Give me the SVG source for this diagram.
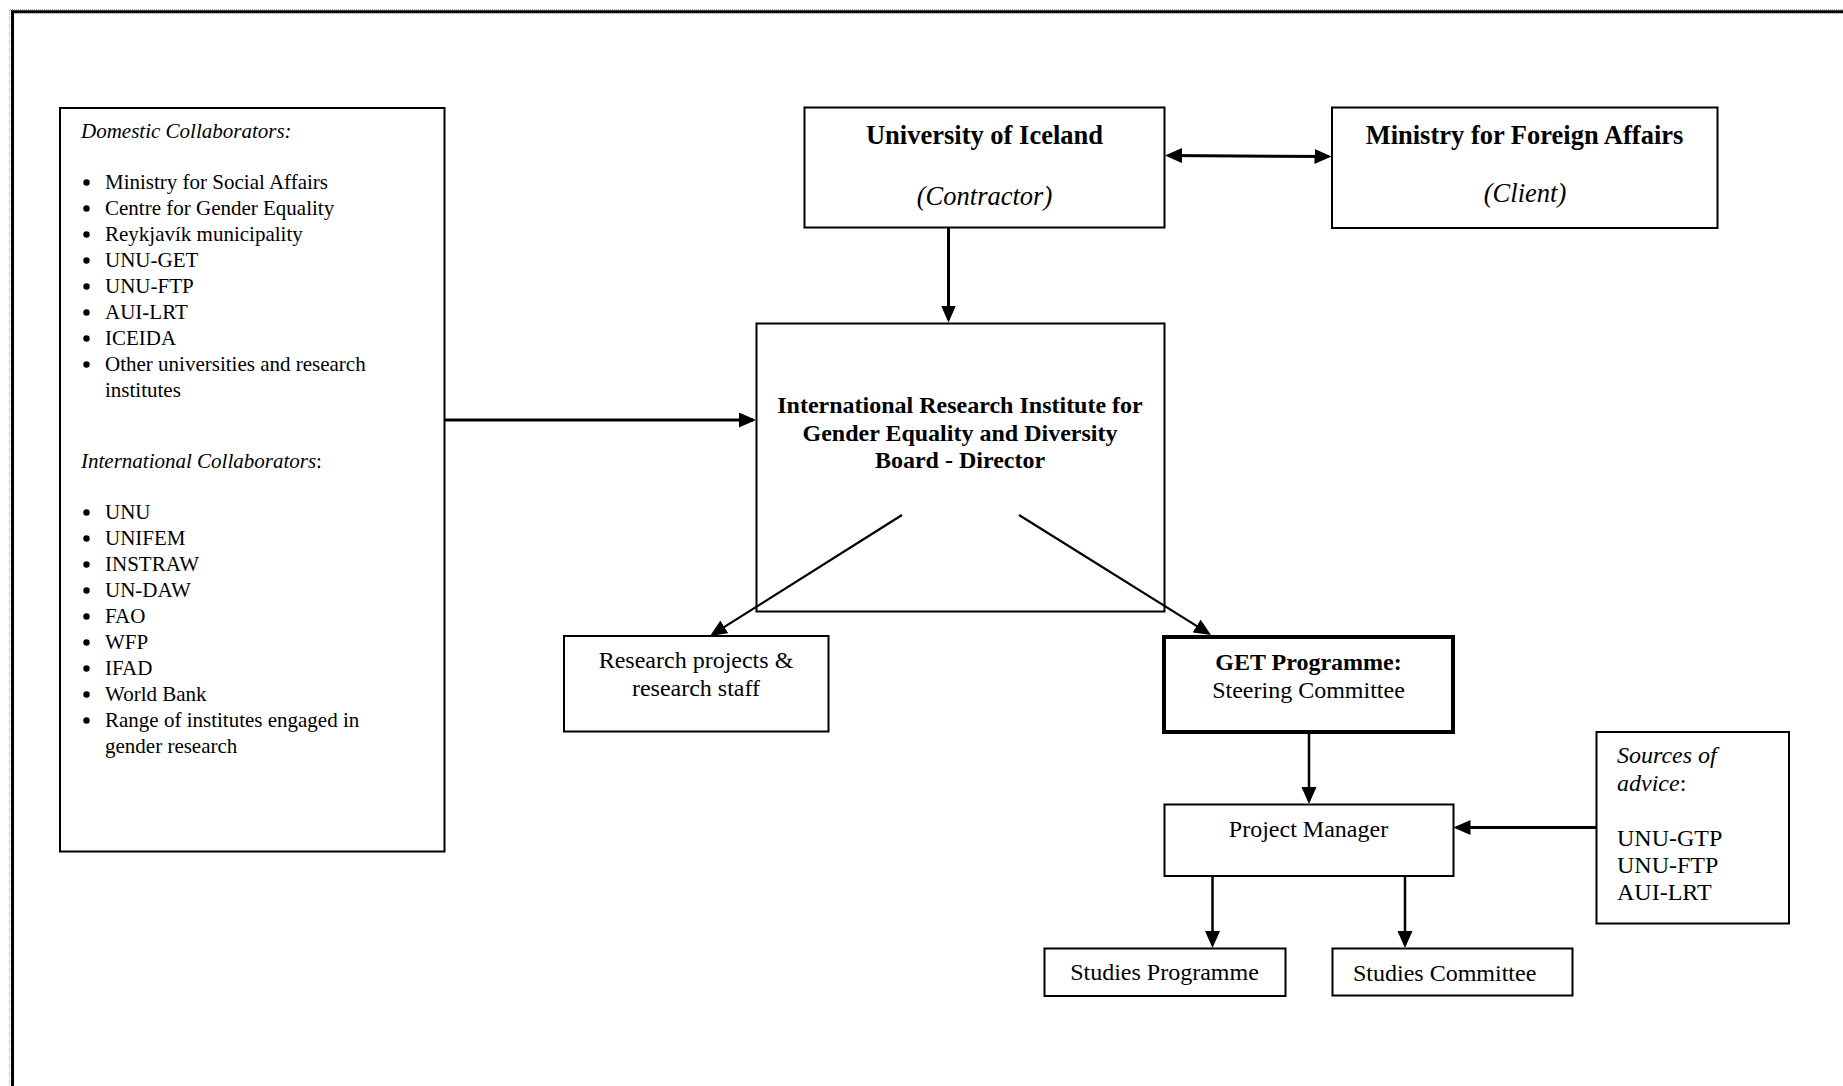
<svg xmlns="http://www.w3.org/2000/svg" width="1843" height="1086" viewBox="0 0 1843 1086">
<style>
  .box { fill: #fff; stroke: #000; stroke-width: 2; }
  .thick { stroke-width: 4; }
  .t { font-family: "Liberation Serif", "Times New Roman", serif; fill: #000; font-size: 24px; }
  .c { text-anchor: middle; }
  .b { font-weight: bold; }
  .i { font-style: italic; }
  .big { font-size: 26.5px; }
  .sm { font-size: 21px; }
  .conn line { stroke: #000; stroke-width: 2.5; fill: none; }
</style>
<defs>
  <marker id="arr" markerUnits="userSpaceOnUse" markerWidth="17" markerHeight="15" refX="14" refY="7.5" orient="auto">
    <path d="M0,0 L17,7.5 L0,15 z" fill="#000"/>
  </marker>
  <marker id="arrs" markerUnits="userSpaceOnUse" markerWidth="17" markerHeight="15" refX="14" refY="7.5" orient="auto-start-reverse">
    <path d="M0,0 L17,7.5 L0,15 z" fill="#000"/>
  </marker>
</defs>
<rect width="1843" height="1086" fill="#fff"/>
<g id="frame">
  <line x1="10" y1="9.5" x2="1843" y2="9.5" stroke="#aaa" stroke-width="1" stroke-dasharray="1,1"/>
  <line x1="9.5" y1="10" x2="9.5" y2="1086" stroke="#aaa" stroke-width="1" stroke-dasharray="1,1"/>
  <line x1="11" y1="11.75" x2="1843" y2="11.75" stroke="#000" stroke-width="3"/>
  <line x1="12.5" y1="10.5" x2="12.5" y2="1086" stroke="#000" stroke-width="3"/>
</g>

<g id="collaborators">
  <rect class="box" x="60" y="108" width="384.5" height="743.5"/>
  <text class="t sm i" x="81" y="138">Domestic Collaborators:</text>
  <g fill="#000">
    <circle cx="86.5" cy="182.5" r="3.2"/>
    <circle cx="86.5" cy="208.5" r="3.2"/>
    <circle cx="86.5" cy="234.5" r="3.2"/>
    <circle cx="86.5" cy="260.5" r="3.2"/>
    <circle cx="86.5" cy="286.5" r="3.2"/>
    <circle cx="86.5" cy="312.5" r="3.2"/>
    <circle cx="86.5" cy="338.5" r="3.2"/>
    <circle cx="86.5" cy="364.5" r="3.2"/>
  </g>
  <text class="t sm" x="105" y="189">Ministry for Social Affairs</text>
  <text class="t sm" x="105" y="215">Centre for Gender Equality</text>
  <text class="t sm" x="105" y="241">Reykjavík municipality</text>
  <text class="t sm" x="105" y="267">UNU-GET</text>
  <text class="t sm" x="105" y="293">UNU-FTP</text>
  <text class="t sm" x="105" y="319">AUI-LRT</text>
  <text class="t sm" x="105" y="345">ICEIDA</text>
  <text class="t sm" x="105" y="371">Other universities and research</text>
  <text class="t sm" x="105" y="397">institutes</text>

  <text class="t sm" x="81" y="468"><tspan class="i">International Collaborators</tspan>:</text>
  <g fill="#000">
    <circle cx="86.5" cy="512.5" r="3.2"/>
    <circle cx="86.5" cy="538.5" r="3.2"/>
    <circle cx="86.5" cy="564.5" r="3.2"/>
    <circle cx="86.5" cy="590.5" r="3.2"/>
    <circle cx="86.5" cy="616.5" r="3.2"/>
    <circle cx="86.5" cy="642.5" r="3.2"/>
    <circle cx="86.5" cy="668.5" r="3.2"/>
    <circle cx="86.5" cy="694.5" r="3.2"/>
    <circle cx="86.5" cy="720.5" r="3.2"/>
  </g>
  <text class="t sm" x="105" y="519">UNU</text>
  <text class="t sm" x="105" y="545">UNIFEM</text>
  <text class="t sm" x="105" y="571">INSTRAW</text>
  <text class="t sm" x="105" y="597">UN-DAW</text>
  <text class="t sm" x="105" y="623">FAO</text>
  <text class="t sm" x="105" y="649">WFP</text>
  <text class="t sm" x="105" y="675">IFAD</text>
  <text class="t sm" x="105" y="701">World Bank</text>
  <text class="t sm" x="105" y="727">Range of institutes engaged in</text>
  <text class="t sm" x="105" y="753">gender research</text>
</g>

<g id="university">
  <rect class="box" x="804.5" y="107.5" width="360" height="120"/>
  <text class="t big b c" x="984.5" y="144">University of Iceland</text>
  <text class="t big i c" x="984.5" y="205">(Contractor)</text>
</g>

<g id="ministry">
  <rect class="box" x="1332" y="107.5" width="385.5" height="120.5"/>
  <text class="t big b c" x="1524.5" y="143.5">Ministry for Foreign Affairs</text>
  <text class="t big i c" x="1525" y="202">(Client)</text>
</g>

<g id="institute">
  <rect class="box" x="756.5" y="323.5" width="408" height="288"/>
  <text class="t b c" x="960" y="413">International Research Institute for</text>
  <text class="t b c" x="960" y="440.5">Gender Equality and Diversity</text>
  <text class="t b c" x="960" y="468">Board - Director</text>
</g>

<g id="research">
  <rect class="box" x="564" y="636" width="264.5" height="95.5"/>
  <text class="t c" x="696" y="668">Research projects &amp;</text>
  <text class="t c" x="696" y="696">research staff</text>
</g>

<g id="get">
  <rect class="box thick" x="1164" y="637" width="289" height="95"/>
  <text class="t b c" x="1308.5" y="670">GET Programme:</text>
  <text class="t c" x="1308.5" y="697.5">Steering Committee</text>
</g>

<g id="manager">
  <rect class="box" x="1164.5" y="804.5" width="289" height="71.5"/>
  <text class="t c" x="1308.5" y="837">Project Manager</text>
</g>

<g id="sources">
  <rect class="box" x="1596.5" y="732" width="192.5" height="191.5"/>
  <text class="t" x="1617" y="763"><tspan class="i">Sources of</tspan></text>
  <text class="t" x="1617" y="790.5"><tspan class="i">advice</tspan>:</text>
  <text class="t" x="1617" y="845.5">UNU-GTP</text>
  <text class="t" x="1617" y="873">UNU-FTP</text>
  <text class="t" x="1617" y="900">AUI-LRT</text>
</g>

<g id="studies-programme">
  <rect class="box" x="1044.5" y="948.5" width="241" height="47.5"/>
  <text class="t c" x="1164.5" y="980">Studies Programme</text>
</g>

<g id="studies-committee">
  <rect class="box" x="1332.5" y="948.5" width="240" height="47"/>
  <text class="t" x="1353" y="980.5">Studies Committee</text>
</g>

<g id="connectors" class="conn">
  <line x1="1168" y1="155.5" x2="1328.5" y2="156.5" style="stroke-width:3" marker-start="url(#arrs)" marker-end="url(#arr)"/>
  <line x1="948.5" y1="228" x2="948.5" y2="319.5" style="stroke-width:3" marker-end="url(#arr)"/>
  <line x1="445" y1="420" x2="753" y2="420" style="stroke-width:3" marker-end="url(#arr)"/>
  <line x1="902" y1="515" x2="712.5" y2="634.4" style="stroke-width:2.2" marker-end="url(#arr)"/>
  <line x1="1019" y1="515" x2="1208.5" y2="633.4" style="stroke-width:2.2" marker-end="url(#arr)"/>
  <line x1="1309" y1="734" x2="1309" y2="801" marker-end="url(#arr)"/>
  <line x1="1596" y1="827.5" x2="1456.5" y2="827.5" style="stroke-width:3" marker-end="url(#arr)"/>
  <line x1="1212.5" y1="876" x2="1212.5" y2="945" marker-end="url(#arr)"/>
  <line x1="1405" y1="876" x2="1405" y2="945" marker-end="url(#arr)"/>
</g>
</svg>
